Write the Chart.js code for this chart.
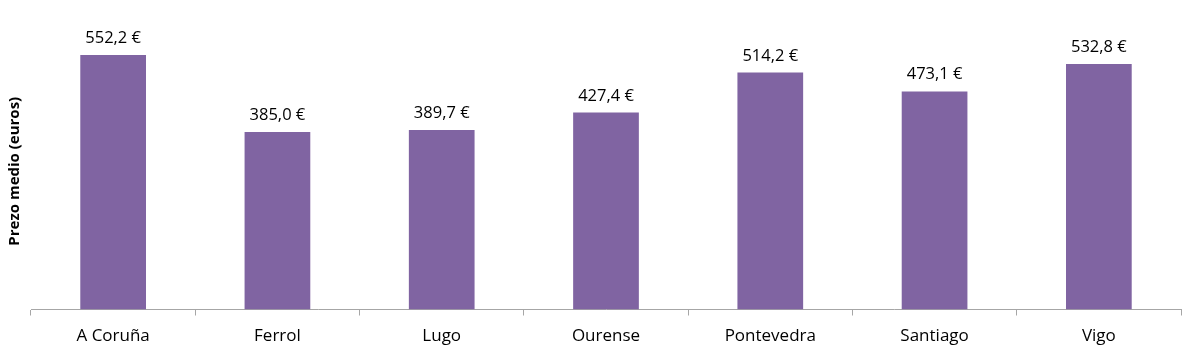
<!DOCTYPE html>
<html>
<head>
<meta charset="utf-8">
<script src="https://cdn.jsdelivr.net/npm/chart.js@4/dist/chart.umd.min.js"></script>
<style>
html,body{margin:0;padding:0;background:#fff;}
#wrap{width:1200px;height:356px;}
</style>
</head>
<body>
<div id="wrap"><canvas id="c" width="1200" height="356"></canvas></div>
<script>
const categories = ["A Coruña", "Ferrol", "Lugo", "Ourense", "Pontevedra", "Santiago", "Vigo"];
const prices = [552.2, 385.0, 389.7, 427.4, 514.2, 473.1, 532.8];
const yAxisTitle = "Prezo medio (euros)";
const yMin = 0;
const yMax = 600;

const FONT = "'Open Sans', 'DejaVu Sans', sans-serif";

function fmt(v) {
  return v.toFixed(1).replace('.', ',') + ' €';
}

const valueLabels = {
  id: 'valueLabels',
  afterDatasetsDraw(chart) {
    const ctx = chart.ctx;
    const meta = chart.getDatasetMeta(0);
    ctx.save();
    ctx.font = "16.5px " + FONT;
    ctx.fillStyle = "#000";
    ctx.textAlign = "center";
    ctx.textBaseline = "alphabetic";
    meta.data.forEach((bar, i) => {
      ctx.fillText(fmt(chart.data.datasets[0].data[i]), bar.x, bar.y - 12);
    });
    ctx.restore();
  }
};

new Chart(document.getElementById('c'), {
  type: 'bar',
  data: {
    labels: categories,
    datasets: [{
      data: prices,
      backgroundColor: '#8064A2',
      borderWidth: 0,
      categoryPercentage: 1,
      barPercentage: 0.4
    }]
  },
  options: {
    responsive: false,
    animation: false,
    devicePixelRatio: 1,
    layout: { padding: { left: 0, right: 19, top: 33, bottom: 0 } },
    plugins: { legend: { display: false }, tooltip: { enabled: false } },
    scales: {
      y: {
        min: yMin, max: yMax,
        ticks: { display: false },
        grid: { display: false },
        border: { display: false },
        title: {
          display: true, text: yAxisTitle, color: '#000',
          font: { family: FONT, size: 15, weight: 'bold' },
          padding: { top: 6, bottom: 0 }
        },
        afterFit(s) { s.width = 31; }
      },
      x: {
        grid: { offset: true, drawOnChartArea: false, tickLength: 6, color: '#a6a6a6' },
        border: { color: '#a6a6a6', width: 1 },
        ticks: { color: '#000', font: { family: FONT, size: 17 }, padding: 10, maxRotation: 0 },
        afterFit(s) { s.height = 46.5; }
      }
    }
  },
  plugins: [valueLabels]
});
</script>
</body>
</html>
